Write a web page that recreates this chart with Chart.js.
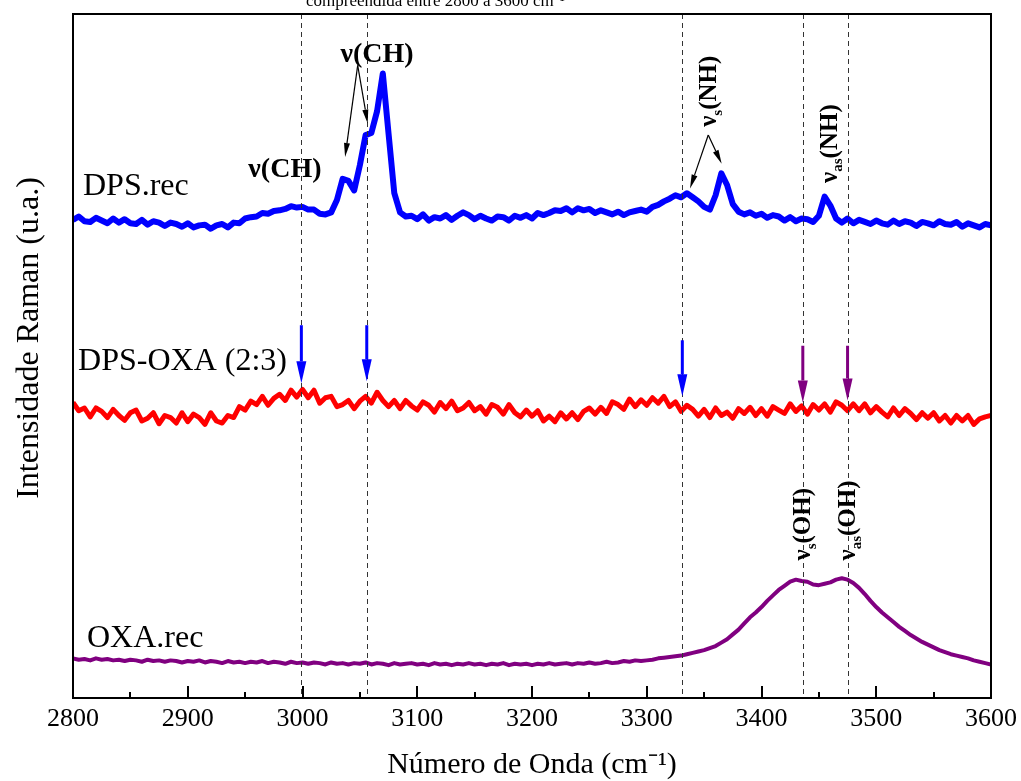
<!DOCTYPE html>
<html>
<head>
<meta charset="utf-8">
<script src="https://cdn.jsdelivr.net/npm/chart.js@4.4.1/dist/chart.umd.min.js"></script>
<style>
  html, body { margin: 0; padding: 0; background: #fff; }
  #wrap { position: relative; width: 1021px; height: 781px; }
</style>
</head>
<body>
<div id="wrap"><canvas id="chart" width="1021" height="781"></canvas></div>
<script>
// x grid, 5 cm-1 apart
const wavenumbers = Array.from({ length: 161 }, (_, i) => 2800 + 5 * i);

// DPS.rec
const dpsRec = [
  69.9, 70.4, 69.7, 69.6, 70.2, 69.8, 69.4, 70.1, 69.5, 70.0,
  69.4, 69.3, 69.9, 69.2, 69.7, 69.5, 69.0, 69.5, 69.3, 68.9,
  69.4, 68.8, 69.1, 69.2, 68.6, 69.1, 69.3, 68.8, 69.5, 69.4,
  70.1, 70.3, 70.4, 70.9, 70.8, 71.2, 71.3, 71.5, 71.9, 71.7,
  71.8, 71.4, 71.4, 70.8, 70.7, 71.0, 72.8, 75.9, 75.6, 74.2,
  77.9, 82.3, 82.6, 85.8, 91.3, 82.5, 73.8, 71.0, 70.4, 70.5,
  70.0, 70.7, 69.8, 70.3, 70.1, 70.6, 69.9, 70.5, 71.0, 70.6,
  70.0, 70.5, 70.1, 69.8, 70.4, 70.3, 69.8, 70.5, 70.2, 70.6,
  70.1, 70.9, 70.6, 70.9, 71.3, 71.2, 71.6, 71.0, 71.6, 71.3,
  71.5, 70.9, 71.3, 71.0, 70.7, 71.1, 70.6, 71.0, 71.2, 71.4,
  71.1, 71.8, 72.1, 72.6, 73.0, 73.5, 73.2, 73.8, 73.2, 72.6,
  71.8, 71.4, 73.5, 76.7, 75.0, 72.2, 71.1, 70.7, 71.0, 70.5,
  70.8, 70.2, 70.6, 70.4, 69.8, 70.3, 69.7, 70.1, 70.0, 69.6,
  70.5, 73.3, 72.0, 70.1, 69.5, 70.1, 69.4, 69.9, 69.6, 69.3,
  69.8, 69.4, 69.2, 69.8, 69.3, 69.7, 69.5, 69.0, 69.6, 69.4,
  69.1, 69.7, 69.3, 69.2, 69.6, 68.9, 69.4, 69.1, 68.8, 69.3,
  69.1
];

// DPS-OXA (2:3)
const dpsOxa = [
  43.2, 42.0, 42.4, 41.1, 42.4, 41.9, 41.0, 42.2, 41.3, 40.6,
  41.7, 42.1, 40.5, 40.9, 41.7, 40.1, 41.3, 41.0, 40.2, 41.7,
  40.4, 41.5, 41.0, 40.0, 41.7, 40.5, 40.2, 41.3, 41.0, 42.6,
  42.1, 43.4, 42.9, 44.1, 42.8, 43.8, 44.4, 43.5, 45.0, 44.0,
  45.1, 43.9, 45.0, 43.1, 43.9, 44.1, 42.6, 42.9, 43.5, 42.3,
  43.4, 44.1, 43.1, 44.7, 43.5, 42.6, 43.5, 42.3, 43.5, 42.7,
  42.1, 43.3, 42.8, 41.8, 43.2, 42.3, 43.4, 42.0, 42.4, 43.2,
  42.0, 42.6, 41.5, 42.9, 42.5, 41.5, 42.9, 41.7, 41.1, 42.1,
  41.2, 42.0, 40.5, 41.2, 40.4, 41.7, 40.8, 41.7, 40.7, 41.9,
  42.4, 41.5, 42.5, 41.6, 43.3, 42.9, 42.2, 43.7, 42.6, 43.6,
  42.8, 43.9, 43.1, 44.1, 42.6, 43.3, 41.9, 42.8, 42.2, 41.2,
  42.2, 41.0, 42.4, 41.3, 41.8, 40.9, 42.3, 41.6, 42.5, 41.3,
  42.3, 41.2, 42.6, 42.1, 41.6, 43.0, 41.9, 42.7, 41.5, 42.9,
  42.1, 43.0, 41.8, 43.3, 42.8, 42.0, 43.0, 42.0, 43.0, 41.7,
  42.6, 41.8, 41.1, 42.4, 41.3, 42.3, 41.6, 40.7, 41.7, 40.9,
  41.7, 40.5, 41.3, 40.2, 41.3, 40.5, 41.3, 40.0, 40.8, 41.1,
  41.3
];

// OXA.rec
const oxaRec = [
  5.8, 5.6, 5.7, 5.5, 5.8, 5.6, 5.7, 5.5, 5.6, 5.4,
  5.6, 5.5, 5.3, 5.6, 5.4, 5.5, 5.3, 5.5, 5.4, 5.2,
  5.4, 5.3, 5.5, 5.2, 5.4, 5.3, 5.1, 5.4, 5.2, 5.3,
  5.1, 5.3, 5.2, 5.4, 5.1, 5.3, 5.2, 5.0, 5.3, 5.1,
  5.2, 5.0, 5.2, 5.1, 4.9, 5.2, 5.0, 5.1, 4.9, 5.1,
  5.0, 5.2, 4.9, 5.1, 5.0, 4.8, 5.1, 4.9, 5.0, 5.1,
  4.9, 5.0, 4.8, 5.1, 4.9, 5.0, 4.8, 5.0, 4.9, 5.1,
  4.9, 5.0, 4.8, 5.0, 4.9, 5.1, 4.8, 5.0, 4.9, 5.0,
  4.8, 5.0, 4.9, 5.1, 4.9, 5.0, 5.1, 4.9, 5.1, 5.0,
  5.2, 5.0, 5.1, 5.3, 5.1, 5.2, 5.4, 5.3, 5.5, 5.4,
  5.5, 5.6, 5.8, 5.9, 6.0, 6.1, 6.2, 6.4, 6.6, 6.8,
  7.0, 7.3, 7.6, 8.1, 8.6, 9.3, 10.0, 10.9, 11.8, 12.5,
  13.3, 14.2, 15.0, 15.8, 16.4, 17.0, 17.3, 17.1, 17.0, 16.6,
  16.5, 16.7, 16.9, 17.3, 17.5, 17.3, 16.8, 16.1, 15.2, 14.2,
  13.3, 12.5, 11.8, 11.1, 10.4, 9.8, 9.2, 8.7, 8.2, 7.8,
  7.4, 7.0, 6.7, 6.4, 6.2, 6.0, 5.8, 5.5, 5.3, 5.1,
  4.9
];

const majorTicks = [2900, 3000, 3100, 3200, 3300, 3400, 3500];
const minorTicks = [2850, 2950, 3050, 3150, 3250, 3350, 3450, 3550];

// dashed guide lines and the arrows sitting on the DPS-OXA trace
const markerLines = [2999, 3056, 3331, 3436, 3475];
const arrowTail = [54.5, 54.5, 52.3, 51.5, 51.5];
const arrowTip = [46.0, 46.3, 44.1, 43.2, 43.5];
const arrowColor = ['#0000ff', '#0000ff', '#0000ff', '#800080', '#800080'];

const SERIF = '"Liberation Serif", "Times New Roman", serif';

function arrow(ctx, x0, y0, x1, y1, lw, headLen, headW, color) {
  const ang = Math.atan2(y1 - y0, x1 - x0);
  const bx = x1 - headLen * Math.cos(ang), by = y1 - headLen * Math.sin(ang);
  ctx.save();
  ctx.strokeStyle = color; ctx.fillStyle = color; ctx.lineWidth = lw;
  ctx.beginPath(); ctx.moveTo(x0, y0); ctx.lineTo(bx, by); ctx.stroke();
  ctx.beginPath();
  ctx.moveTo(x1, y1);
  ctx.lineTo(bx + headW / 2 * Math.sin(ang), by - headW / 2 * Math.cos(ang));
  ctx.lineTo(bx - headW / 2 * Math.sin(ang), by + headW / 2 * Math.cos(ang));
  ctx.closePath(); ctx.fill();
  ctx.restore();
}

// rotated "ν_sub(rest)" label, px = centre of the glyphs, py = bottom end
function vLabel(ctx, px, py, sub, rest, size) {
  ctx.save();
  ctx.translate(px, py);
  ctx.rotate(-Math.PI / 2);
  ctx.fillStyle = '#000';
  ctx.textAlign = 'left';
  ctx.textBaseline = 'alphabetic';
  const off = size * 0.33;
  ctx.font = `bold ${size}px ${SERIF}`;
  ctx.fillText('ν', 0, off);
  let w = ctx.measureText('ν').width;
  ctx.font = `bold ${Math.round(size * 0.6)}px ${SERIF}`;
  ctx.fillText(sub, w, off + size * 0.22);
  w += ctx.measureText(sub).width;
  ctx.font = `bold ${size}px ${SERIF}`;
  ctx.fillText(rest, w, off);
  ctx.restore();
}

const annotate = {
  id: 'annotate',
  afterDatasetsDraw(chart) {
    const { ctx, chartArea: a, scales: { x, y } } = chart;
    ctx.save();

    // dashed guides
    ctx.strokeStyle = '#333'; ctx.lineWidth = 1; ctx.setLineDash([5, 4]);
    markerLines.forEach(v => {
      const px = Math.round(x.getPixelForValue(v)) + 0.5;
      ctx.beginPath(); ctx.moveTo(px, a.top); ctx.lineTo(px, a.bottom); ctx.stroke();
    });
    ctx.setLineDash([]);

    // arrows onto DPS-OXA
    markerLines.forEach((v, i) => {
      const px = x.getPixelForValue(v);
      arrow(ctx, px, y.getPixelForValue(arrowTail[i]), px, y.getPixelForValue(arrowTip[i]), 3, 22, 10, arrowColor[i]);
    });

    // thin black pointer arrows
    const P = (wx, wy) => [x.getPixelForValue(wx), y.getPixelForValue(wy)];
    const c0 = P(3048.1, 92.5);
    [P(3037.1, 79.1), P(3056.8, 84.0)].forEach(t => arrow(ctx, c0[0], c0[1], t[0], t[1], 1.2, 14, 6, '#000'));
    const n0 = P(3353.6, 82.3);
    [P(3337.7, 74.5), P(3365.3, 78.1)].forEach(t => arrow(ctx, n0[0], n0[1], t[0], t[1], 1.2, 14, 6, '#000'));

    // text labels
    ctx.fillStyle = '#000';
    ctx.textBaseline = 'alphabetic';
    ctx.textAlign = 'left';
    ctx.font = `32px ${SERIF}`;
    ctx.fillText('DPS.rec', x.getPixelForValue(2808.7), y.getPixelForValue(73.5));
    ctx.fillText('DPS-OXA (2:3)', x.getPixelForValue(2804.4), y.getPixelForValue(48.0));
    ctx.fillText('OXA.rec', x.getPixelForValue(2812.2), y.getPixelForValue(7.5));

    ctx.textAlign = 'center';
    ctx.font = `bold 28px ${SERIF}`;
    ctx.fillText('ν(CH)', x.getPixelForValue(2984.7), y.getPixelForValue(76.1));
    ctx.fillText('ν(CH)', x.getPixelForValue(3064.9), y.getPixelForValue(93.0));

    vLabel(ctx, x.getPixelForValue(3353.4), y.getPixelForValue(83.5), 's', '(NH)', 25);
    vLabel(ctx, x.getPixelForValue(3458.4), y.getPixelForValue(75.3), 'as', '(NH)', 25);
    vLabel(ctx, x.getPixelForValue(3435.3), y.getPixelForValue(20.1), 's', '(OH)', 25);
    vLabel(ctx, x.getPixelForValue(3474.5), y.getPixelForValue(20.1), 'as', '(OH)', 25);
    ctx.restore();
  },
  afterDraw(chart) {
    const { ctx, chartArea: a, scales: { x } } = chart;
    ctx.save();
    // frame
    ctx.strokeStyle = '#000'; ctx.lineWidth = 2;
    ctx.strokeRect(a.left, a.top, a.right - a.left, a.bottom - a.top);
    // inward ticks on the bottom axis
    ctx.lineWidth = 2;
    majorTicks.forEach(v => {
      const px = Math.round(x.getPixelForValue(v));
      ctx.beginPath(); ctx.moveTo(px, a.bottom); ctx.lineTo(px, a.bottom - 12); ctx.stroke();
    });
    minorTicks.forEach(v => {
      const px = Math.round(x.getPixelForValue(v));
      ctx.beginPath(); ctx.moveTo(px, a.bottom); ctx.lineTo(px, a.bottom - 6); ctx.stroke();
    });
    // y axis title
    ctx.fillStyle = '#000';
    ctx.font = `32px ${SERIF}`;
    ctx.textAlign = 'center'; ctx.textBaseline = 'middle';
    ctx.translate(30, 338);
    ctx.rotate(-Math.PI / 2);
    ctx.fillText('Intensidade Raman (u.a.)', 0, 0);
    ctx.restore();
    // caption cut off at the top edge
    ctx.save();
    ctx.fillStyle = '#000';
    ctx.font = `17px ${SERIF}`;
    ctx.textAlign = 'left'; ctx.textBaseline = 'alphabetic';
    ctx.fillText('compreendida entre 2800 a 3600 cm⁻¹', 306, 6);
    ctx.restore();
  }
};

const series = (vals) => wavenumbers.map((w, i) => ({ x: w, y: vals[i] }));

new Chart(document.getElementById('chart'), {
  type: 'line',
  data: {
    datasets: [
      { label: 'DPS.rec', data: series(dpsRec), borderColor: '#0000ff', borderWidth: 6 },
      { label: 'DPS-OXA (2:3)', data: series(dpsOxa), borderColor: '#ff0000', borderWidth: 5 },
      { label: 'OXA.rec', data: series(oxaRec), borderColor: '#800080', borderWidth: 4 }
    ]
  },
  options: {
    responsive: false,
    animation: false,
    events: [],
    elements: { point: { radius: 0 }, line: { tension: 0, borderJoinStyle: 'round' } },
    layout: { padding: { left: 73, right: 30, top: 14, bottom: 1 } },
    plugins: { legend: { display: false }, tooltip: { enabled: false } },
    scales: {
      x: {
        type: 'linear', min: 2800, max: 3600,
        grid: { display: false, drawTicks: false },
        border: { display: false },
        afterFit: s => { s.paddingLeft = 0; s.paddingRight = 0; },
        ticks: {
          stepSize: 100, color: '#000', padding: 8, maxRotation: 0, autoSkip: false,
          font: { family: SERIF, size: 26, lineHeight: 1 },
          callback: v => String(v)
        },
        title: {
          display: true, text: 'Número de Onda (cm⁻¹)', color: '#000',
          font: { family: SERIF, size: 30, lineHeight: 1 },
          padding: { top: 10, bottom: 0 }
        }
      },
      y: { display: false, min: 0, max: 100 }
    }
  },
  plugins: [annotate]
});
</script>
</body>
</html>
